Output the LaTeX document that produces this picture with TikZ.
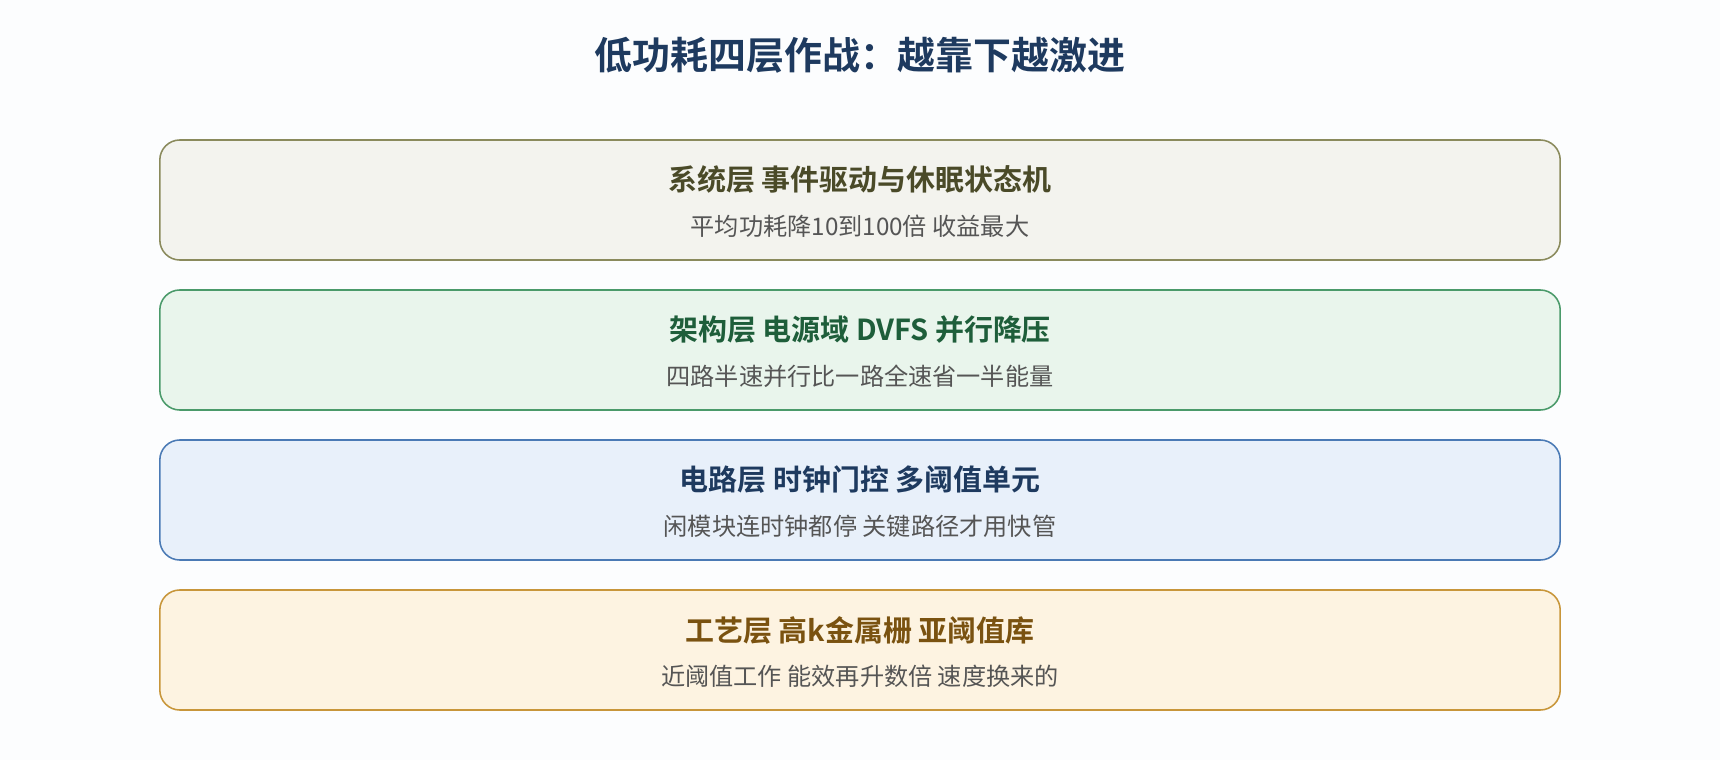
\documentclass[tikz,border=0pt]{standalone}
\usepackage{fontspec}
\newfontfamily\cjk[BoldFont={Noto Sans CJK SC Bold}]{Noto Sans CJK SC}
\usepackage{xcolor}
\definecolor{bgcol}{HTML}{FCFDFE}
\definecolor{titlecol}{HTML}{1E3A5F}
\definecolor{subcol}{HTML}{555555}
\definecolor{sysfill}{HTML}{F3F3EE}
\definecolor{sysline}{HTML}{8A8A5C}
\definecolor{systext}{HTML}{4A4A28}
\definecolor{archfill}{HTML}{E9F5EC}
\definecolor{archline}{HTML}{4A9A6A}
\definecolor{archtext}{HTML}{1E5E3A}
\definecolor{circfill}{HTML}{E8F0FA}
\definecolor{circline}{HTML}{4A7AB5}
\definecolor{circtext}{HTML}{1E3A5F}
\definecolor{procfill}{HTML}{FDF3E1}
\definecolor{procline}{HTML}{C8963A}
\definecolor{proctext}{HTML}{7A5210}
\usetikzlibrary{positioning}

\begin{document}
\begin{tikzpicture}[x=0.025cm,y=-0.025cm,
		layer/.style={rounded corners=0.5cm,line width=1.1pt,minimum width=35cm,minimum height=3cm},
		head/.style={font=\cjk\bfseries\fontsize{20.6}{24}\selectfont},
		sub/.style={font=\cjk\fontsize{17.2}{21}\selectfont,text=subcol}]
		\fill[bgcol] (0,0) rectangle (1720,760);
		\useasboundingbox (0,0) rectangle (1720,760);
		%
		\node[font=\cjk\bfseries\fontsize{27}{32}\selectfont,text=titlecol] (title) at (860,55) {低功耗四层作战：越靠下越激进};
		% layers
		\node[layer,fill=sysfill,draw=sysline] (sys) at (860,200) {};
		\node[layer,fill=archfill,draw=archline] (arch) at (860,350) {};
		\node[layer,fill=circfill,draw=circline] (circ) at (860,500) {};
		\node[layer,fill=procfill,draw=procline] (proc) at (860,650) {};
		% texts
		\node[head,text=systext] (sysH) at (860,180) {系统层 事件驱动与休眠状态机};
		\node[sub] (sysS) at (860,226) {平均功耗降10到100倍 收益最大};
		\node[head,text=archtext] (archH) at (860,330) {架构层 电源域 DVFS 并行降压};
		\node[sub] (archS) at (860,376) {四路半速并行比一路全速省一半能量};
		\node[head,text=circtext] (circH) at (860,480) {电路层 时钟门控 多阈值单元};
		\node[sub] (circS) at (860,526) {闲模块连时钟都停 关键路径才用快管};
		\node[head,text=proctext] (procH) at (860,630) {工艺层 高k金属栅 亚阈值库};
		\node[sub] (procS) at (860,676) {近阈值工作 能效再升数倍 速度换来的};
\end{tikzpicture}
\end{document}
